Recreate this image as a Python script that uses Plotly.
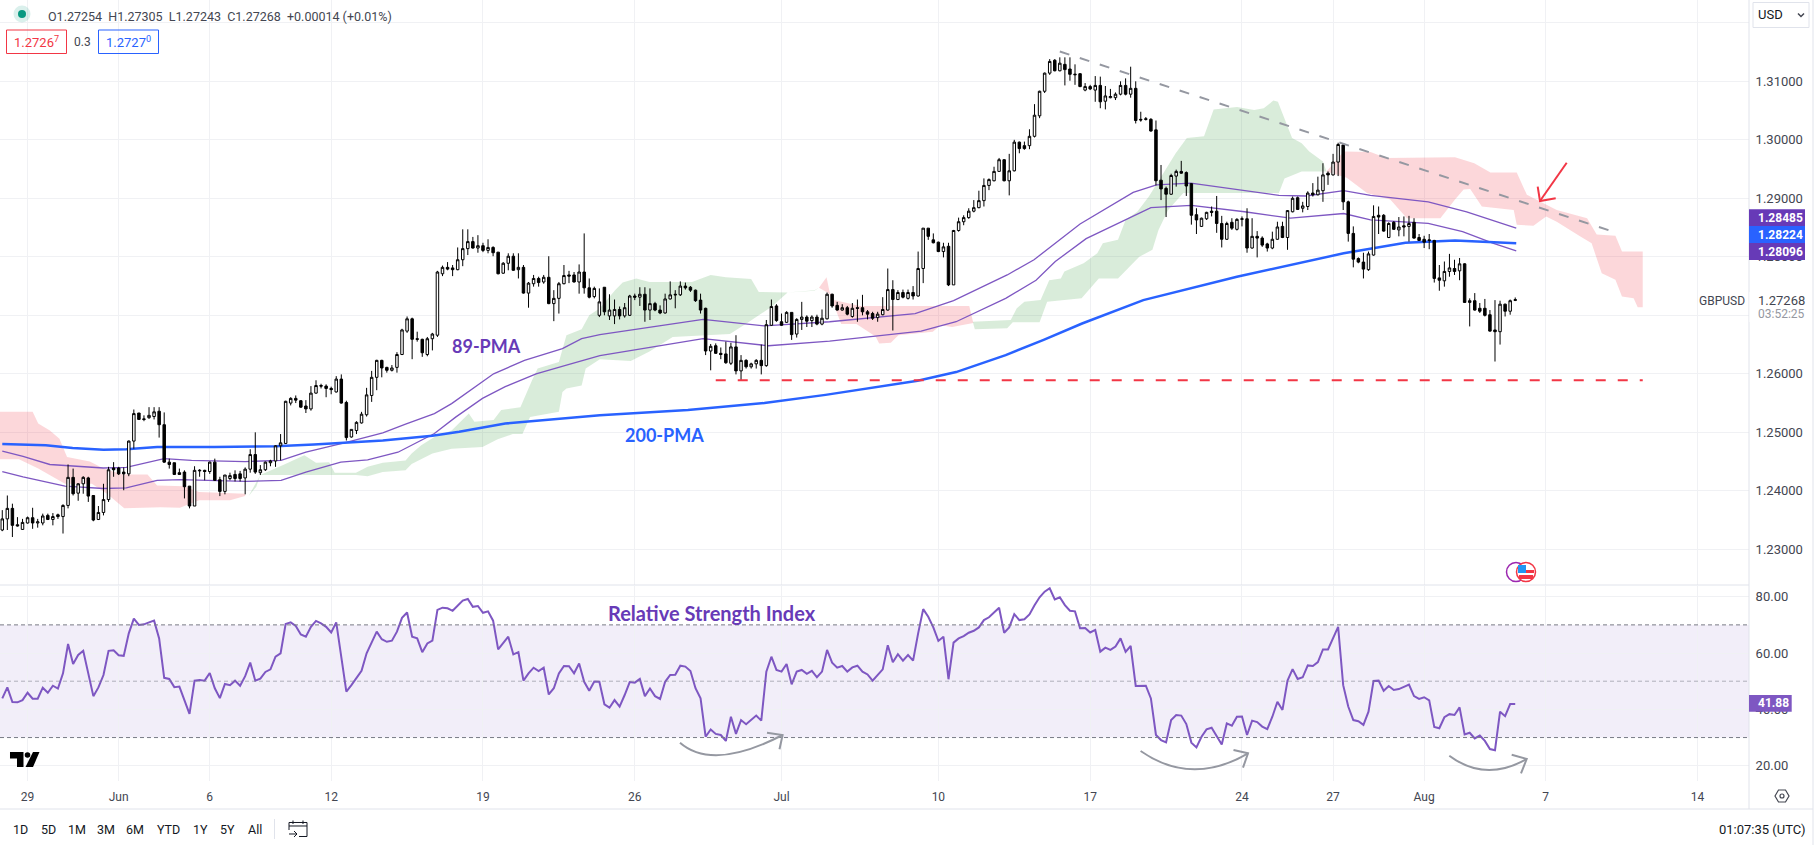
import numpy as np
import plotly.graph_objects as go

W, H = 1814, 845
PANE_RIGHT = 1749
FONT = "Roboto"

# candles, prices in pips (1.2345 -> 12345), one per 4h bar
opens = [12333,12352,12370,12342,12334,12345,12354,12345,12345,12358,
         12351,12359,12356,12375,12423,12396,12412,12422,12392,12351,
         12363,12385,12439,12439,12432,12429,12485,12533,12523,12525,
         12527,12536,12513,12449,12448,12431,12432,12408,12374,12434,
         12435,12433,12449,12419,12399,12421,12428,12429,12422,12437,
         12462,12431,12436,12448,12451,12477,12481,12550,12558,12554,
         12545,12540,12567,12580,12579,12575,12569,12591,12551,12492,
         12503,12516,12530,12563,12594,12623,12611,12606,12611,12633,
         12673,12694,12660,12659,12633,12660,12666,12771,12782,12781,
         12778,12795,12814,12826,12815,12819,12811,12816,12808,12772,
         12789,12801,12778,12782,12738,12754,12763,12757,12765,12720,
         12729,12754,12769,12769,12757,12774,12747,12732,12700,12748,
         12699,12699,12710,12699,12700,12733,12731,12736,12709,12720,
         12709,12704,12728,12736,12735,12750,12748,12743,12726,12712,
         12639,12648,12635,12634,12618,12646,12605,12623,12612,12617,
         12623,12614,12683,12716,12689,12688,12705,12668,12693,12697,
         12691,12697,12685,12694,12736,12717,12709,12713,12698,12713,
         12713,12706,12703,12696,12701,12709,12744,12727,12739,12729,
         12739,12733,12780,12849,12829,12825,12809,12818,12752,12845,
         12860,12867,12878,12884,12896,12922,12930,12946,12966,12930,
         12947,12996,12990,12990,13006,13041,13083,13114,13136,13118,
         13129,13121,13111,13113,13085,13091,13085,13093,13066,13072,
         13072,13078,13093,13078,13088,13035,13036,13035,13017,12931,
         12917,12907,12938,12946,12944,12925,12872,12852,12865,12878,
         12878,12857,12830,12859,12847,12864,12865,12815,12835,12832,
         12822,12815,12830,12852,12833,12877,12901,12883,12886,12909,
         12906,12913,12943,12940,12962,12991,12894,12840,12797,12791,
         12778,12803,12871,12871,12833,12859,12846,12853,12852,12859,
         12833,12830,12829,12828,12764,12759,12775,12780,12776,12788,
         12722,12725,12712,12712,12701,12675,12672,12719,12707,12725.4]
highs = [12367,12392,12378,12355,12352,12356,12371,12352,12361,12361,
         12362,12361,12377,12445,12438,12413,12425,12424,12392,12374,
         12412,12441,12449,12441,12440,12486,12539,12533,12529,12543,
         12543,12543,12534,12455,12448,12438,12435,12408,12442,12437,
         12436,12450,12455,12424,12427,12431,12435,12434,12440,12471,
         12500,12444,12450,12453,12478,12497,12554,12560,12563,12555,
         12555,12579,12589,12583,12582,12578,12596,12599,12554,12505,
         12519,12535,12576,12605,12624,12624,12612,12615,12637,12677,
         12698,12696,12672,12660,12663,12670,12776,12785,12791,12786,
         12816,12847,12847,12834,12837,12824,12830,12818,12808,12791,
         12806,12806,12806,12786,12757,12769,12766,12769,12801,12743,
         12757,12786,12776,12774,12787,12840,12763,12749,12746,12748,
         12736,12727,12715,12721,12735,12737,12748,12748,12746,12723,
         12717,12737,12758,12743,12758,12756,12750,12744,12737,12713,
         12651,12652,12645,12655,12653,12666,12632,12625,12619,12625,
         12650,12692,12727,12719,12703,12707,12705,12695,12723,12700,
         12700,12701,12710,12739,12737,12723,12719,12716,12721,12727,
         12735,12709,12706,12706,12731,12780,12760,12743,12744,12744,
         12750,12809,12849,12849,12840,12826,12824,12824,12846,12867,
         12871,12883,12897,12913,12934,12934,12954,12969,12967,12976,
         13000,12997,12997,13018,13061,13084,13115,13138,13138,13141,
         13141,13141,13129,13114,13097,13094,13109,13108,13092,13087,
         13081,13100,13105,13125,13100,13048,13039,13037,13033,12957,
         12920,12942,12949,12964,12946,12926,12883,12867,12877,12886,
         12904,12870,12860,12866,12866,12869,12883,12866,12844,12835,
         12824,12843,12860,12860,12880,12903,12903,12894,12912,12926,
         12937,12960,12946,12976,12995,12993,12896,12852,12799,12807,
         12809,12888,12886,12873,12859,12861,12868,12869,12870,12866,
         12839,12836,12839,12829,12786,12792,12805,12795,12798,12789,
         12729,12738,12721,12728,12709,12726,12725,12720,12727,12730.5]
lows = [12331,12333,12321,12339,12333,12344,12335,12337,12341,12350,
        12341,12352,12327,12370,12392,12383,12395,12381,12348,12350,
        12358,12381,12424,12427,12401,12425,12472,12521,12519,12523,
        12522,12491,12448,12438,12427,12427,12387,12370,12374,12424,
        12418,12429,12417,12391,12394,12418,12416,12416,12394,12431,
        12429,12427,12434,12442,12441,12452,12480,12546,12550,12542,
        12533,12537,12566,12575,12560,12565,12568,12549,12486,12491,
        12497,12515,12527,12552,12572,12594,12602,12604,12602,12632,
        12670,12625,12655,12629,12630,12640,12663,12767,12777,12767,
        12777,12784,12803,12814,12807,12808,12806,12801,12770,12771,
        12777,12776,12763,12737,12713,12749,12749,12754,12719,12690,
        12703,12753,12755,12756,12737,12737,12729,12729,12697,12700,
        12692,12685,12693,12696,12699,12726,12716,12689,12692,12707,
        12702,12703,12727,12712,12733,12744,12740,12723,12703,12632,
        12606,12634,12625,12617,12615,12599,12589,12609,12609,12609,
        12599,12612,12682,12689,12682,12687,12658,12662,12675,12680,
        12680,12683,12683,12693,12713,12708,12708,12700,12696,12689,
        12700,12693,12692,12689,12700,12708,12674,12726,12729,12727,
        12727,12732,12755,12829,12823,12808,12799,12750,12752,12843,
        12854,12865,12876,12883,12886,12914,12929,12946,12929,12905,
        12946,12977,12983,12984,13004,13037,13080,13111,13117,13117,
        13093,13101,13094,13090,13083,13085,13065,13054,13052,13071,
        13068,13076,13076,13072,13028,13031,13033,13014,12922,12897,
        12868,12906,12920,12942,12904,12855,12839,12851,12863,12869,
        12841,12816,12829,12846,12845,12852,12807,12814,12799,12817,
        12809,12813,12829,12832,12812,12876,12880,12876,12880,12903,
        12905,12894,12923,12939,12938,12880,12826,12782,12789,12763,
        12776,12802,12839,12843,12832,12846,12835,12835,12826,12831,
        12827,12815,12813,12756,12742,12749,12766,12769,12760,12721,
        12681,12708,12704,12698,12672,12621,12650,12698,12701,12724.3]
closes = [12352,12370,12341,12340,12346,12354,12345,12347,12357,12351,
          12356,12356,12375,12423,12395,12412,12423,12391,12350,12363,
          12385,12436,12436,12429,12429,12485,12532,12522,12522,12529,
          12535,12513,12449,12445,12428,12428,12407,12374,12435,12435,
          12433,12449,12418,12399,12427,12426,12421,12421,12437,12462,
          12432,12436,12449,12451,12477,12482,12553,12558,12555,12543,
          12540,12567,12580,12579,12575,12573,12591,12550,12491,12505,
          12517,12531,12564,12594,12623,12610,12606,12610,12633,12675,
          12694,12659,12659,12636,12660,12668,12774,12782,12779,12778,
          12795,12814,12826,12815,12819,12811,12816,12807,12771,12789,
          12801,12777,12782,12738,12755,12763,12756,12765,12720,12729,
          12754,12768,12767,12757,12774,12747,12731,12746,12723,12706,
          12709,12710,12699,12713,12733,12731,12736,12709,12720,12709,
          12704,12728,12735,12735,12750,12747,12743,12725,12709,12639,
          12647,12635,12633,12619,12646,12605,12623,12612,12617,12623,
          12614,12684,12715,12691,12683,12705,12667,12693,12697,12690,
          12697,12685,12695,12736,12716,12709,12713,12702,12712,12712,
          12706,12702,12695,12702,12710,12744,12727,12739,12731,12739,
          12733,12780,12849,12835,12824,12809,12817,12752,12845,12860,
          12867,12878,12884,12896,12922,12932,12946,12966,12930,12947,
          12996,12985,12985,13006,13042,13083,13114,13134,13118,13131,
          13120,13112,13112,13091,13091,13087,13093,13065,13075,13074,
          13078,13093,13078,13088,13033,13034,13035,13015,12930,12916,
          12907,12939,12946,12943,12921,12871,12863,12866,12876,12876,
          12857,12830,12857,12849,12864,12865,12815,12835,12832,12820,
          12815,12830,12851,12833,12879,12900,12881,12887,12909,12906,
          12914,12940,12940,12962,12992,12894,12840,12796,12791,12779,
          12805,12869,12868,12844,12857,12847,12851,12851,12857,12832,
          12828,12825,12828,12763,12760,12775,12781,12775,12788,12722,
          12725,12709,12707,12700,12673,12672,12719,12707,12725,12726.8]

rsi = [43.9,47.8,42.6,42.5,43.3,45.9,43.8,43.8,47.7,45.9,
       48.4,47.4,52.8,63.2,56.1,59.3,60.8,52.8,44.7,47.8,
       52.2,60.8,61.0,59.2,59.0,67.0,72.2,70.0,70.2,70.9,
       71.5,65.2,51.2,50.8,47.9,48.1,43.3,38.4,50.2,50.4,
       50.2,52.9,47.5,44.0,49.0,48.6,50.2,48.4,51.8,56.6,
       50.2,50.9,53.3,54.2,58.7,59.9,70.3,70.9,69.6,66.6,
       65.8,69.3,71.4,70.5,69.3,67.3,70.9,58.1,46.3,48.6,
       51.0,53.7,59.9,64.0,67.6,64.9,64.0,64.4,67.6,72.5,
       74.4,65.8,65.2,60.3,63.4,64.4,75.3,76.1,75.9,75.0,
       76.8,78.6,79.2,76.4,76.7,74.3,74.8,71.5,61.3,63.4,
       65.8,59.5,60.3,50.2,52.8,54.8,53.6,54.8,45.3,47.5,
       52.8,55.4,55.3,52.8,56.3,49.8,46.6,49.9,49.8,41.8,
       40.6,43.3,41.0,45.1,49.7,49.5,50.8,44.7,47.4,44.7,
       43.7,49.8,52.2,52.3,55.5,55.2,53.6,47.5,43.9,30.3,
       32.9,31.3,30.9,28.8,37.4,31.3,36.2,34.7,36.2,37.8,
       36.0,53.4,58.7,54.0,53.4,56.1,48.9,53.4,54.0,52.6,
       53.7,51.4,53.4,61.1,56.6,54.8,55.4,53.4,54.9,55.5,
       53.4,52.4,50.2,52.2,54.2,62.8,56.7,59.6,57.3,59.3,
       57.3,67.0,75.6,72.9,69.1,64.3,65.8,50.7,63.7,65.2,
       66.0,67.2,67.9,69.1,71.7,72.7,74.3,76.1,67.2,69.1,
       73.8,71.7,72.0,73.7,77.0,79.8,81.8,83.0,79.0,79.8,
       77.0,75.0,74.8,68.8,68.9,67.3,68.2,60.5,61.9,61.1,
       62.3,65.2,60.4,62.5,48.3,48.4,48.4,43.9,30.9,29.1,
       28.3,36.2,38.0,37.8,34.8,28.2,26.5,30.3,32.9,33.5,
       30.5,27.5,35.0,34.2,37.4,37.5,30.9,36.0,35.5,33.9,
       33.0,37.4,42.7,39.8,50.2,54.3,50.8,51.4,55.6,55.4,
       56.8,61.3,61.3,65.2,69.3,48.6,41.0,36.2,35.8,34.5,
       39.2,50.1,50.2,46.6,48.3,46.9,47.2,48.0,48.8,44.7,
       43.7,44.3,43.2,33.8,33.3,37.2,38.3,38.0,40.7,31.1,
       31.7,29.7,30.7,28.8,25.9,25.5,39.2,37.6,41.9,41.88]

# moving averages, read at their bends (bar index, pips)
ma_upper_x = [0,4.1,9.4,15.4,20,24.5,32,37.4,48,55.1,60,67.6,75.2,79.7,85.4,88.8,93.4,97.1,103.2,110.7,114.5,
              118.1,138.5,150.6,163.5,180.4,188,198.6,203.9,213,223.5,228.1,234.9,245.5,252.3,257.6,265.1,270.4,281.8,289.4,299.2]
ma_upper_y = [12468,12459,12445,12442,12439,12440,12455,12452,12450,12452,12466,12482,12499,12514,12532,12549,12578,12600,12623,12643,12660,
              12667,12693,12682,12689,12703,12725,12769,12795,12856,12910,12923,12926,12914,12905,12904,12913,12905,12894,12877,12849]
ma_lower_x = [0,4.1,12.4,20,24.5,30.6,35.1,48,55.1,60,66.9,72.2,78.2,85.4,89.6,94.9,99.4,105.5,111.5,118.1,
              138.5,151.4,163.5,181.6,188.5,198.3,204.3,208.1,214.2,222.5,227,235,245.5,254.6,265.1,270.4,281.8,288.6,294.7,299.2]
ma_lower_y = [12433,12424,12408,12404,12405,12418,12419,12416,12418,12432,12449,12453,12466,12498,12526,12558,12578,12600,12615,12631,
              12660,12648,12656,12673,12689,12729,12760,12792,12831,12866,12884,12888,12877,12866,12874,12863,12857,12843,12823,12810]
ma200_x = [0,8.6,13.9,20,24.5,30.6,41.9,54,61.6,67.6,75.2,85,90.3,99.4,109.2,118.1,135.5,150.6,162.7,180.9,188.5,
           198.3,205.8,213.4,225.5,236.7,244,265.1,277.3,287.1,296,299.2]
ma200_y = [12480,12478,12473,12470,12471,12475,12475,12476,12479,12482,12486,12494,12501,12515,12523,12529,12538,12550,12564,12588,12603,
           12632,12658,12686,12726,12750,12766,12806,12824,12828,12824,12823]

# ichimoku cloud pieces, each as a top edge and a bottom edge
pink1_top_x = [-1,6,7.1,9.4,11.3,12.8,17.3,20,23.8,28.7,30.6,35.9,38.9,48]
pink1_top_y = [12535,12535,12515,12503,12489,12458,12450,12438,12428,12428,12409,12408,12398,12395]
pink1_bot_x = [-1,3.3,7.1,12.4,17.7,20.7,24.1,31.3,35.1,38.9,45,48]
pink1_bot_y = [12454,12454,12438,12412,12412,12395,12370,12372,12371,12384,12384,12391]

green1_top_x = [48.7,51,55.5,59.7,62,64.6,65.7,69.9,72.2,75.2,79.7,80.9,82.8,85.4,88.8,92.2,93.3,97.1,98.6,102.4,104.7,105.8,110,111.5,114.5,116,
                118.1,121.1,122.6,125.3,127.9,136.3,140,143,148,149.5,155.2,160.5,161.4]
green1_top_y = [12391,12427,12444,12461,12448,12449,12431,12431,12441,12448,12452,12464,12478,12492,12503,12532,12518,12521,12538,12543,12589,12609,12620,12666,12676,12700,
                12712,12743,12756,12763,12757,12757,12769,12765,12762,12740,12739,12743,12747]
green1_bot_x = [48.7,50.2,51,69.9,72.2,75.2,79.7,80.9,85,88.8,94.9,97.9,100.9,102.8,104.3,110,110.7,111.5,114.5,115.3,118.1,124.2,127.9,132.5,143.8,147.6,152.1,155.2,160.5,161.4]
green1_bot_y = [12391,12407,12427,12427,12425,12432,12435,12446,12464,12472,12475,12488,12497,12497,12526,12535,12569,12575,12580,12609,12625,12622,12638,12663,12668,12689,12715,12739,12742,12747]

pink2_top_x = [161.4,162.9,163.5,164.4,169.5,191.1,191.9]
pink2_top_y = [12747,12765,12740,12726,12716,12716,12687]
pink2_bot_x = [161.4,163.5,165.8,168.8,172.6,173.3,175.6,177.1,183.9,185.4,187.7,191.9]
pink2_bot_y = [12747,12737,12685,12685,12664,12652,12653,12666,12672,12683,12680,12687]

green2_top_x = [191.8,199.3,200.5,202,205.2,206.9,209.2,209.9,213.7,216.4,217.5,220.5,222,224.3,226.6,231.9,234.1,237.5,239.4,244,247.4,249.3,251.2,252.1,254.9,256.8,258.3,261,261.7]
green2_top_y = [12689,12692,12712,12723,12726,12760,12763,12775,12789,12806,12823,12829,12863,12877,12903,12977,13003,13006,13052,13056,13051,13054,13067,13065,13003,12994,12980,12963,12946]
green2_bot_x = [191.8,192.2,198.6,199.7,205,206.5,213.3,216.7,220.5,222.8,224.7,227.3,228.5,230.4,233.4,252.3,253.4,256.8,261.7]
green2_bot_y = [12689,12676,12678,12688,12688,12723,12729,12763,12763,12783,12800,12812,12846,12880,12909,12909,12934,12946,12946]

pink3_top_x = [261.7,265.1,270.4,273.5,287.1,290.9,294.1,299.3,301.3,307.2,313.2,315.1,318.8,320.1,324.2,324.2]
pink3_top_y = [12946,12980,12979,12969,12970,12960,12944,12944,12906,12880,12866,12838,12836,12809,12809,12714]
pink3_bot_x = [261.7,265.7,269.7,274.3,277.6,284.2,287.1,288.8,290.1,292.4,298.7,299.3,302.6,305.1,307.2,311.8,314.1,316.1,318.8,320.1,322.4,323.2,324.2]
pink3_bot_y = [12946,12935,12909,12898,12866,12866,12898,12915,12916,12886,12880,12855,12853,12869,12860,12835,12823,12772,12761,12732,12729,12714,12714]

# hand drawn lines on the chart
trend_x = [209,318]
trend_y = [1.3151,1.2844]
support_x = [141,324.2]
support_y = [1.2589,1.2589]

# axes
tick_bars = [5,23,41,65,95,125,154,185,215,245,263,281,305,335]
tick_names = ["29","Jun","6","12","19","26","Jul","10","17","24","27","Aug","7","14"]
price_ticks = [1.23,1.24,1.25,1.26,1.27,1.28,1.29,1.30,1.31,1.32]
rsi_ticks = [20,40,60,80]
rsi_levels = [70,50,30]
ranges_btn = ["1D","5D","1M","3M","6M","YTD","1Y","5Y","All"]
ranges_btn_x = [20,48,77,106,135,168,200,227,255]

GRID = "#F0F1F4"
LINE = "#E0E3EB"
TEXT = "#434651"
PURPLE = "#673AB7"
LINE_PURPLE = "#7E57C2"
BLUE = "#2962FF"
RED = "#F23645"
GREY = "#9598A1"
PINK_FILL = "rgba(242,54,69,0.2)"
GREEN_FILL = "rgba(67,160,71,0.2)"


def fx(x):
    return x / W


def fy(y):
    return 1 - y / H


def label(x, y, text, size=12, color=TEXT, anchor="left", family=FONT, weight="normal"):
    fig.add_annotation(x=fx(x), y=fy(y), xref="paper", yref="paper", text=text, showarrow=False,
                       xanchor=anchor, yanchor="middle", borderpad=0,
                       font=dict(family=family, size=size, color=color, weight=weight))


def seg(x0, y0, x1, y1, color=LINE, width=1):
    fig.add_shape(type="line", xref="paper", yref="paper", x0=fx(x0), y0=fy(y0), x1=fx(x1), y1=fy(y1),
                  line=dict(color=color, width=width))


def box(x0, y0, x1, y1, line=None, fill=None, width=1):
    fig.add_shape(type="rect", xref="paper", yref="paper", x0=fx(x0), y0=fy(y0), x1=fx(x1), y1=fy(y1),
                  line=dict(color=line or "rgba(0,0,0,0)", width=width), fillcolor=fill or "rgba(0,0,0,0)")


def dot(cx, cy, r, line=None, fill=None, width=1):
    fig.add_shape(type="circle", xref="paper", yref="paper", x0=fx(cx - r), y0=fy(cy - r), x1=fx(cx + r), y1=fy(cy + r),
                  line=dict(color=line or "rgba(0,0,0,0)", width=width), fillcolor=fill or "rgba(0,0,0,0)")


def path(points, closed=False, line=None, fill=None, width=1):
    d = "M " + " L ".join(f"{fx(x):.5f} {fy(y):.5f}" for x, y in points) + (" Z" if closed else "")
    fig.add_shape(type="path", xref="paper", yref="paper", path=d,
                  line=dict(color=line or "rgba(0,0,0,0)", width=width), fillcolor=fill or "rgba(0,0,0,0)")


def arc(start, low, end, head_a, head_b):
    cx = 2 * low[0] - (start[0] + end[0]) / 2
    cy = 2 * low[1] - (start[1] + end[1]) / 2
    d = f"M {fx(start[0]):.5f} {fy(start[1]):.5f} Q {fx(cx):.5f} {fy(cy):.5f} {fx(end[0]):.5f} {fy(end[1]):.5f}"
    fig.add_shape(type="path", xref="paper", yref="paper", path=d, line=dict(color=GREY, width=2))
    path([head_a, end, head_b], line=GREY, width=2)


def add_cloud(top_x, top_y, bot_x, bot_y, color):
    xs = list(top_x) + list(bot_x)[::-1]
    ys = (np.array(list(top_y) + list(bot_y)[::-1])) / 10000
    fig.add_trace(go.Scatter(x=xs, y=ys, mode="lines", fill="toself", fillcolor=color, line=dict(width=0),
                             hoverinfo="skip", showlegend=False, xaxis="x", yaxis="y"))


def add_ma(xs, ys, color, width):
    fig.add_trace(go.Scatter(x=xs, y=np.array(ys) / 10000, mode="lines", line=dict(color=color, width=width),
                             hoverinfo="skip", showlegend=False, xaxis="x", yaxis="y"))


fig = go.Figure()

add_cloud(pink1_top_x, pink1_top_y, pink1_bot_x, pink1_bot_y, PINK_FILL)
add_cloud(green1_top_x, green1_top_y, green1_bot_x, green1_bot_y, GREEN_FILL)
add_cloud(pink2_top_x, pink2_top_y, pink2_bot_x, pink2_bot_y, PINK_FILL)
add_cloud(green2_top_x, green2_top_y, green2_bot_x, green2_bot_y, GREEN_FILL)
add_cloud(pink3_top_x, pink3_top_y, pink3_bot_x, pink3_bot_y, PINK_FILL)

add_ma(ma_upper_x, ma_upper_y, LINE_PURPLE, 1.3)
add_ma(ma_lower_x, ma_lower_y, LINE_PURPLE, 1.3)
add_ma(ma200_x, ma200_y, BLUE, 2.5)

# candles go on an overlay axis pair, otherwise the scatter lines end up over them
bars = np.arange(len(opens))
fig.add_trace(go.Candlestick(
    x=bars, open=np.array(opens) / 10000, high=np.array(highs) / 10000,
    low=np.array(lows) / 10000, close=np.array(closes) / 10000,
    increasing=dict(line=dict(color="#000000", width=1), fillcolor="#FFFFFF"),
    decreasing=dict(line=dict(color="#000000", width=1), fillcolor="#000000"),
    whiskerwidth=0, hoverinfo="skip", showlegend=False, xaxis="x3", yaxis="y3"))

fig.add_trace(go.Scatter(x=bars, y=rsi, mode="lines", line=dict(color=LINE_PURPLE, width=2),
                         hoverinfo="skip", showlegend=False, xaxis="x2", yaxis="y2"))

x_range = [-0.45, 345.2]
price_range = [1.2239, 1.3239]
grid_axis = dict(range=x_range, domain=[0, PANE_RIGHT / W], showgrid=True, gridcolor=GRID, gridwidth=1,
                 tickmode="array", tickvals=tick_bars, zeroline=False, showline=False)
fig.update_layout(
    width=W, height=H, margin=dict(l=0, r=0, t=0, b=0), autosize=False,
    paper_bgcolor="#FFFFFF", plot_bgcolor="#FFFFFF", showlegend=False,
    font=dict(family=FONT, size=12, color=TEXT),
    xaxis=dict(anchor="y", showticklabels=False, ticks="", **grid_axis),
    yaxis=dict(anchor="x", domain=[1 - 585 / H, 1], range=price_range, side="right",
               tickmode="array", tickvals=price_ticks,
               ticktext=["" if p == 1.32 else f"{p:.5f}" for p in price_ticks],
               showgrid=True, gridcolor=GRID, zeroline=False, showline=False,
               ticks="outside", ticklen=3, tickcolor="rgba(0,0,0,0)", tickfont=dict(size=13, color=TEXT)),
    xaxis2=dict(anchor="y2", ticktext=tick_names, tickfont=dict(size=12, color=TEXT),
                ticks="outside", ticklen=5, tickcolor="rgba(0,0,0,0)", **grid_axis),
    yaxis2=dict(anchor="x2", domain=[1 - 780.7 / H, 1 - 585.5 / H], range=[14.68, 83.98], side="right",
                tickmode="array", tickvals=rsi_ticks, ticktext=[f"{t:.2f}" for t in rsi_ticks],
                showgrid=True, gridcolor=GRID, zeroline=False, showline=False,
                ticks="outside", ticklen=3, tickcolor="rgba(0,0,0,0)", tickfont=dict(size=13, color=TEXT)),
    xaxis3=dict(overlaying="x", anchor="y3", range=x_range, visible=False, rangeslider=dict(visible=False)),
    yaxis3=dict(overlaying="y", anchor="x3", range=price_range, visible=False, side="right"),
)

# rsi band and levels
fig.add_shape(type="rect", xref="x2 domain", yref="y2", x0=0, x1=1, y0=rsi_levels[2], y1=rsi_levels[0],
              fillcolor="rgba(126,87,194,0.1)", line=dict(width=0), layer="below")
for lvl in rsi_levels:
    fig.add_shape(type="line", xref="x2 domain", yref="y2", x0=0, x1=1, y0=lvl, y1=lvl,
                  line=dict(color="rgba(120,123,134,0.55)" if lvl == 50 else "#787B86", width=1, dash="4px,3px"))

# drawn lines
fig.add_shape(type="line", xref="x", yref="y", x0=trend_x[0], x1=trend_x[1], y0=trend_y[0], y1=trend_y[1],
              line=dict(color=GREY, width=2, dash="10px,11px"))
fig.add_shape(type="line", xref="x", yref="y", x0=support_x[0], x1=support_x[1], y0=support_y[0], y1=support_y[1],
              line=dict(color=RED, width=2, dash="10px,12px"))

# red arrow
seg(1566.7, 162.7, 1540, 201, RED, 2)
path([(1537.7, 186.7), (1540, 201), (1555.7, 198.3)], line=RED, width=2)

# rsi curved arrows
arc((680, 742.7), (722, 755), (782.6, 735), (767, 732.7), (779.5, 749.3))
arc((1140.6, 751), (1193, 769.3), (1248, 753.3), (1233.5, 750), (1243, 767.7))
arc((1449.3, 755.7), (1486.7, 770), (1526.7, 759), (1511.7, 754.7), (1521, 773.3))

# frame
seg(0, 585, PANE_RIGHT, 585)
seg(0, 809, 1813, 809)
seg(PANE_RIGHT, 0, PANE_RIGHT, 809)
seg(1813, 0, 1813, 845)
seg(274.5, 819, 274.5, 839)

# header
dot(22, 14, 8.5, fill="rgba(8,153,129,0.15)")
dot(22, 14, 4, fill="#089981")
label(47, 16, "O1.27254  H1.27305  L1.27243  C1.27268  +0.00014 (+0.01%)", size=12.5, color=TEXT)
box(6.5, 30, 66.5, 53.5, line=RED, width=1)
label(36.5, 42, "1.2726<sup>7</sup>", size=13, color=RED, anchor="center")
label(82, 42, "0.3", size=12, color=TEXT, anchor="center")
box(98.5, 30, 158.5, 53.5, line=BLUE, width=1)
label(128.5, 42, "1.2727<sup>0</sup>", size=13, color=BLUE, anchor="center")

# USD selector
box(1753, 2.5, 1809, 27.5, line=LINE, fill="#FFFFFF")
label(1757, 15, "USD", size=13, color="#131722")
path([(1798, 13.5), (1801, 16.5), (1804, 13.5)], line=TEXT, width=1.5)

# text on the chart
label(486, 346, "89-PMA", size=18, color=PURPLE, anchor="center", family="Lato", weight="bold")
label(664, 435, "200-PMA", size=18, color=BLUE, anchor="center", family="Lato", weight="bold")
label(712, 613, "Relative Strength Index", size=20, color=PURPLE, anchor="center", family="Lato", weight="bold")

# right scale labels, the white patch hides the 1.27000 tick as the price tag does
box(1749.5, 292, 1812, 322, fill="#FFFFFF")
label(1721.7, 300.7, "GBPUSD", size=12, color=TEXT, anchor="center")
label(1757, 300.7, "1.27268", size=13, color=TEXT)
label(1757, 314.5, "03:52:25", size=12, color=GREY)
box(1749, 209.3, 1805, 226, fill=PURPLE)
box(1749, 226, 1805, 243, fill=BLUE)
box(1749, 243, 1805, 260, fill=PURPLE)
label(1757, 217.6, "1.28485", size=12, color="#FFFFFF", weight="bold")
label(1757, 234.5, "1.28224", size=12, color="#FFFFFF", weight="bold")
label(1757, 251.5, "1.28096", size=12, color="#FFFFFF", weight="bold")
box(1749, 695, 1791.7, 711.7, fill=LINE_PURPLE)
label(1757, 703.3, "41.88", size=12, color="#FFFFFF", weight="bold")

# event badges
dot(1516, 572, 9.5, line="#9C27B0", fill="#FFFFFF", width=1.5)
dot(1526, 572, 9.5, line=RED, fill="#FFFFFF", width=1.5)
box(1518, 565, 1526, 573, fill="#2196F3")
box(1526, 570, 1534, 573, fill=RED)
box(1519, 575, 1533, 579, fill=RED)

# tradingview mark
path([(10, 752), (23.5, 752), (23.5, 767), (17, 767), (17, 758.5), (10, 758.5)], closed=True, fill="#000000")
dot(27.5, 755, 2.8, fill="#000000")
path([(33, 752), (39.5, 752), (33, 767), (25.5, 767)], closed=True, fill="#000000")

# settings hexagon
path([(1775, 796), (1778.5, 790), (1785.5, 790), (1789, 796), (1785.5, 802), (1778.5, 802)], closed=True, line=TEXT, width=1.2)
dot(1782, 796, 2, line=TEXT, width=1.2)

# bottom toolbar
for name, bx in zip(ranges_btn, ranges_btn_x):
    label(bx, 829, name, size=12.5, color="#131722", anchor="center")
path([(307, 829), (307, 822.5), (289, 822.5), (289, 830)], line="#131722", width=1)
path([(289, 826), (307, 826)], line="#131722", width=1)
path([(293, 820.5), (293, 824)], line="#131722", width=1)
path([(303, 820.5), (303, 824)], line="#131722", width=1)
path([(299, 836.5), (307, 836.5), (307, 829)], line="#131722", width=1)
path([(289, 834), (297, 834)], line="#131722", width=1)
path([(294, 831), (297, 834), (294, 837)], line="#131722", width=1)
label(1806.5, 829, "01:07:35 (UTC)", size=13, color="#131722", anchor="right")

fig.write_html("out.html", config={"displayModeBar": False},
               post_script="document.body.style.margin='0';")
